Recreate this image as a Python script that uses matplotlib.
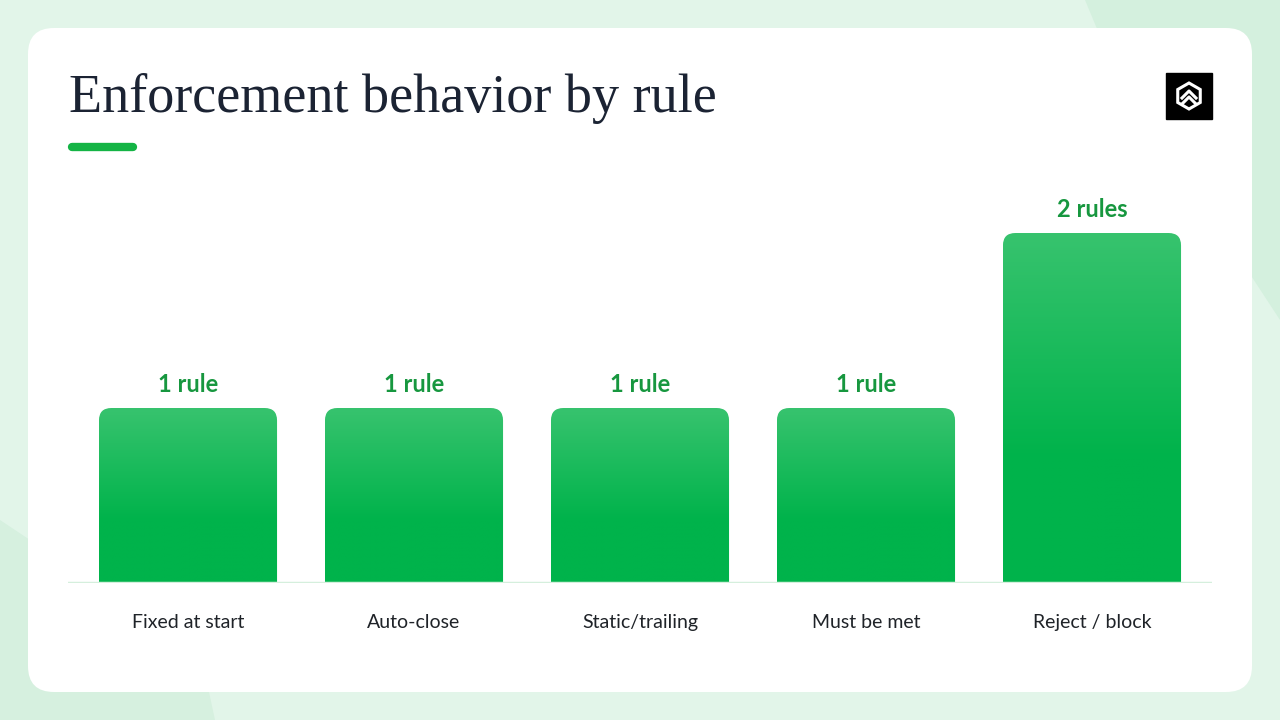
import numpy as np
import matplotlib
matplotlib.use("Agg")
import matplotlib.pyplot as plt
from matplotlib.patches import FancyBboxPatch, Polygon, Rectangle

categories = ["Fixed at start", "Auto-close", "Static/trailing", "Must be met", "Reject / block"]
rule_counts = [1, 1, 1, 1, 2]
value_labels = ["1 rule", "1 rule", "1 rule", "1 rule", "2 rules"]

W, H = 1280, 720
fig = plt.figure(figsize=(12.8, 7.2), dpi=100)

# background layer in pixel coordinates
bg = fig.add_axes([0, 0, 1, 1])
bg.set_xlim(0, W)
bg.set_ylim(H, 0)
bg.axis("off")
bg.add_patch(Rectangle((0, 0), W, H, color="#e2f5e9", zorder=0))
bg.add_patch(Polygon([(1085, 0), (W, 0), (W, 320), (1110, 60)], closed=True,
                     color="#d4f0de", zorder=1, lw=0))
bg.add_patch(Polygon([(0, 520), (60, 560), (200, 650), (215, H), (0, H)], closed=True,
                     color="#d6f0df", zorder=1, lw=0))
card = FancyBboxPatch((28, 28), 1224, 664, boxstyle="round,pad=0,rounding_size=26",
                      facecolor="white", edgecolor="none", zorder=2)
bg.add_patch(card)

# title + accent
bg.text(69, 98, "Enforcement behavior by rule", fontsize=39, family="Liberation Serif",
        color="#1b2333", va="center", ha="left", zorder=3)
bg.plot([72, 133], [147, 147], color="#14b445", lw=6, solid_capstyle="round", zorder=3)

# logo
bg.add_patch(Rectangle((1166, 73), 46, 46, color="#000000", zorder=3))
lx, ly = 1189, 96
hexpts = [(lx + 13 * np.cos(a), ly + 13 * np.sin(a)) for a in np.linspace(np.pi / 6, 2 * np.pi + np.pi / 6, 7)]
bg.add_patch(Polygon(hexpts[:-1], closed=True, fill=False, edgecolor="white", lw=2.2, zorder=4))
bg.plot([lx - 7, lx, lx + 7], [ly + 2, ly - 5, ly + 2], color="white", lw=2.2, zorder=4)
bg.plot([lx - 7, lx, lx + 7], [ly + 8, ly + 1, ly + 8], color="white", lw=2.2, zorder=4)

# chart axes
ax = fig.add_axes([68 / W, (H - 583) / H, (1212 - 68) / W, 437.5 / H])
ax.set_facecolor("none")
x = np.arange(len(categories))
bars = ax.bar(x, rule_counts, width=0.788, color="none", edgecolor="none")
ax.set_xlim(-0.531, len(categories) - 1 + 0.531)
ax.set_ylim(0, 2.5)

top_c = np.array([0x37, 0xc3, 0x6e]) / 255
bot_c = np.array([0x00, 0xb3, 0x4b]) / 255
for b in bars:
    x0, w, h = b.get_x(), b.get_width(), b.get_height()
    n = 200
    t = np.linspace(0, 1, n)  # 0 at top
    f = np.clip(t / 0.64, 0, 1)[:, None]
    grad = (top_c * (1 - f) + bot_c * f)[:, None, :]
    im = ax.imshow(grad, extent=[x0, x0 + w, 0, h], aspect="auto", origin="upper", zorder=2)
    clip = FancyBboxPatch((x0, -0.3), w, h + 0.3,
                          boxstyle="round,pad=0,rounding_size=0.055",
                          mutation_aspect=(1 / 175) / (1 / 226),
                          transform=ax.transData, facecolor="none", edgecolor="none")
    ax.add_patch(clip)
    im.set_clip_path(clip)

ax.set_xlim(-0.531, len(categories) - 1 + 0.531)
ax.set_ylim(0, 2.5)

for xi, v, lab in zip(x, rule_counts, value_labels):
    ax.text(xi, v + 0.137, lab, ha="center", va="center", fontsize=17,
            fontweight="bold", family="Lato", color="#17973f")

ax.axhline(0, color="#d5efdd", lw=2.5, zorder=3)
for s in ax.spines.values():
    s.set_visible(False)
ax.set_yticks([])
ax.set_xticks(x)
ax.set_xticklabels(categories, fontsize=14, family="Lato", color="#1f2328")
ax.tick_params(axis="x", length=0, pad=22)

fig.savefig("out.png", dpi=100)
